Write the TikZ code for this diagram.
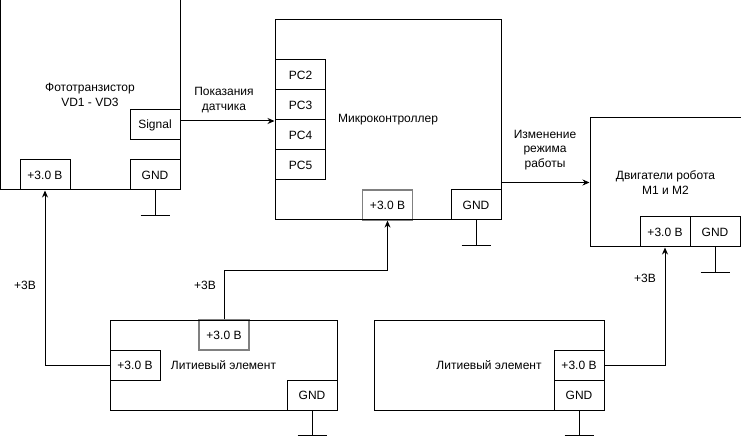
\documentclass[tikz,border=0pt]{standalone}
\usepackage{fontspec}
\setmainfont{Liberation Sans}
\usetikzlibrary{positioning,arrows.meta}

\begin{document}
\begin{tikzpicture}[x=1pt, y=-1pt, line width=1pt,
    every node/.style={font=\fontsize{12}{14.5}\selectfont},
    blk/.style={draw, align=center, inner sep=0pt},
    port/.style={draw, minimum width=50pt, minimum height=30pt, inner sep=0pt},
    gport/.style={port, draw=black!50, line width=1.3pt},
    arr/.style={-{Stealth[length=7pt, width=6pt]}}]
    \useasboundingbox (0,0) rectangle (741,438);

    % Voltage ports drawn first, boxes over them
    \node[port] (php) at (45,175) {+3.0 В};
    \node[gport] (mcp) at (387.5,205) {+3.0 В};
    \node[gport] (lip2) at (224,335) {+3.0 В};

    % Main blocks
    \node[blk, minimum width=180pt, minimum height=190pt] (photo) at (90,95) {Фототранзистор\\VD1 - VD3};
    \node[blk, minimum width=226pt, minimum height=200pt] (mc) at (388,120) {Микроконтроллер};
    \node[blk, minimum width=151pt, minimum height=129pt] (mot) at (665.5,182.5) {Двигатели робота\\M1 и M2};
    \node[blk, minimum width=227pt, minimum height=90pt] (li1) at (223.5,365) {Литиевый элемент};
    \node[blk, minimum width=230pt, minimum height=90pt] (li2) at (489,365) {Литиевый элемент};

    % Ports
    \node[port] (sig) at (155,125) {Signal};
    \node[port] (phg) at (155,175) {GND};
    \node[port] (pc2) at (300.5,75) {PC2};
    \node[port] (pc3) at (300.5,105) {PC3};
    \node[port] (pc4) at (300.5,135) {PC4};
    \node[port] (pc5) at (300.5,165) {PC5};
    \node[port] (mcg) at (476,205) {GND};
    \node[port] (motp) at (665,232) {+3.0 В};
    \node[port] (motg) at (715,232) {GND};
    \node[port] (lip1) at (135,365) {+3.0 В};
    \node[port] (lig1) at (312,395) {GND};
    \node[port] (lip3) at (579,365) {+3.0 В};
    \node[port] (lig2) at (579,395) {GND};

    % Signal lines
    \draw[arr] ([yshift=4pt]sig.east) -- ([yshift=4pt]sig.east -| mc.west);
    \node[align=center] (lbl1) at (224,100) {Показания\\датчика};
    \draw[arr] (mc.east |- mot.west) -- (mot.west);
    \node[align=center] (lbl2) at (545,150) {Изменение\\режима\\работы};

    % Power lines
    \draw[arr] (lip1.west) -| (php.south);
    \node (v1) at (25,285) {+3В};
    \coordinate (c1) at (224,270);
    \draw[arr] (lip2.north) -- (c1) -| (mcp.south);
    \node (v2) at (205,285) {+3В};
    \draw[arr] (lip3.east) -| (motp.south);
    \node (v3) at (645,278) {+3В};

    % Ground
    \foreach \p in {phg, mcg, motg, lig1, lig2} {
        \draw (\p.south) -- ++(0,25) coordinate (g\p);
        \draw ([xshift=-14.5pt]g\p) -- ([xshift=14.5pt]g\p);
    }
\end{tikzpicture}
\end{document}
